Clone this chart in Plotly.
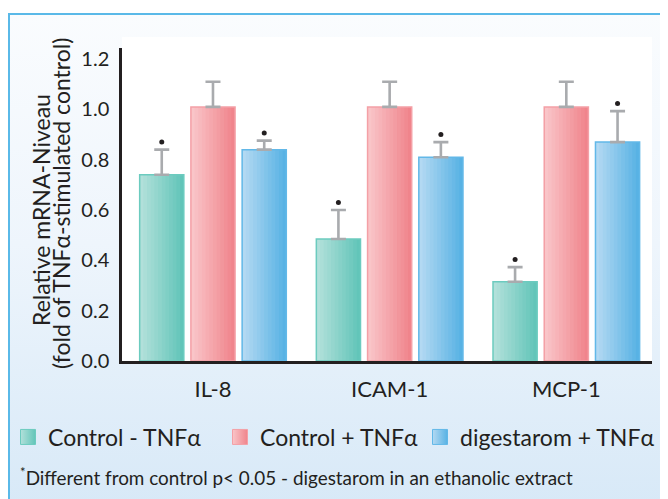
import base64
import numpy as np
import plotly.graph_objects as go

# ---------------- data ----------------
categories = ["IL-8", "ICAM-1", "MCP-1"]
series_names = ["Control - TNFα", "Control + TNFα", "digestarom + TNFα"]

control_minus = [0.74, 0.485, 0.315]
control_minus_err = [0.10, 0.115, 0.058]
control_minus_sig = [True, True, True]

control_plus = [1.01, 1.01, 1.01]
control_plus_err = [0.10, 0.10, 0.10]
control_plus_sig = [False, False, False]

digestarom = [0.84, 0.81, 0.87]
digestarom_err = [0.036, 0.06, 0.123]
digestarom_sig = [True, True, True]

y_ticks = [0.0, 0.2, 0.4, 0.6, 0.8, 1.0, 1.2]
y_tick_labels = ["0.0", "0.2", "0.4", "0.6", "0.8", "1.0", "1.2"]

y_title_lines = ["Relative mRNA-Niveau", "(fold of TNFα-stimulated control)"]
footnote = "<sup>*</sup>Different from control p< 0.05 - digestarom in an ethanolic extract"

# ---------------- geometry / styles ----------------
SHIFT = 8                      # page body margin
W, H = 668 - SHIFT, 499 - SHIFT
PX0, PX1, PY0, PY1 = 122 - SHIFT, 652 - SHIFT, 48 - SHIFT, 361 - SHIFT
L, R, T, B = PX0, W - PX1, PY0, H - PY1
pw, ph = PX1 - PX0, PY1 - PY0

def px_x(sx):   # screen x -> paper x
    return (sx - SHIFT - PX0) / pw

def px_y(sy):   # screen y -> paper y
    return (PY1 - (sy - SHIFT)) / ph

def cx(sx):     # screen x -> container x
    return max(0.0, (sx - SHIFT) / W)

def cy(sy):     # screen y -> container y
    return 1 - (sy - SHIFT) / H

FONT = "Lato, 'Open Sans', sans-serif"
TXT = "#231f20"

styles = [
    dict(left=(178, 224, 218), right=(98, 197, 185), border="#6ccbbf"),
    dict(left=(249, 197, 200), right=(240, 132, 140), border="#f4a0a6"),
    dict(left=(179, 217, 242), right=(88, 178, 228), border="#62b8e8"),
]
bar_w = 0.25
offsets = [-0.415, -0.125, 0.165]
N_SLICES = 12
legend_ids = ["legend", "legend2", "legend3"]
legend_left = [8, 220, 420]

values = [control_minus, control_plus, digestarom]
errors = [control_minus_err, control_plus_err, digestarom_err]
sigs = [control_minus_sig, control_plus_sig, digestarom_sig]

xpos = np.arange(len(categories))

fig = go.Figure()

def rgb(c):
    return "rgb(%d,%d,%d)" % tuple(int(round(v)) for v in c)

for s, (name, vals, errs, sig, st, off) in enumerate(
        zip(series_names, values, errors, sigs, styles, offsets)):
    step = bar_w / N_SLICES
    for k in range(N_SLICES):
        t = k / (N_SLICES - 1)
        col = [a + (b - a) * t for a, b in zip(st["left"], st["right"])]
        w = step * 1.6 if k < N_SLICES - 1 else step
        fig.add_trace(go.Bar(
            x=xpos, y=vals, offset=off + k * step, width=w,
            marker=dict(color=rgb(col), line=dict(width=0)),
            showlegend=False, hoverinfo="skip",
        ))
    # outline + error bars
    fig.add_trace(go.Bar(
        x=xpos, y=vals, offset=off, width=bar_w,
        marker=dict(color="rgba(0,0,0,0)", line=dict(width=1.5, color=st["border"])),
        error_y=dict(type="data", array=errs, arrayminus=[0] * len(errs),
                     symmetric=False, color="#a9abae", thickness=2.6, width=7.5),
        showlegend=False, hoverinfo="skip",
    ))
    # significance dots
    sx = [x + off + bar_w / 2 for x, f in zip(xpos, sig) if f]
    sy = [v + e + 0.03 for v, e, f in zip(vals, errs, sig) if f]
    if sx:
        fig.add_trace(go.Scatter(
            x=sx, y=sy, mode="markers",
            marker=dict(color="#231f20", size=5, symbol="circle"),
            showlegend=False, hoverinfo="skip",
        ))

# legend entries (gradient squares), one legend box per entry
for name, st, lid in zip(series_names, styles, legend_ids):
    fig.add_trace(go.Scatter(
        x=[None], y=[None], mode="markers", name=name, legend=lid,
        marker=dict(symbol="square", size=15, color=rgb(st["left"]),
                    gradient=dict(type="horizontal", color=rgb(st["right"])),
                    line=dict(width=1, color=st["border"])),
    ))

# ---------------- background panel (svg) ----------------
svg = f'''<svg xmlns="http://www.w3.org/2000/svg" width="{W}" height="{H}" viewBox="0 0 {W} {H}">
<defs><linearGradient id="g" x1="0" y1="0" x2="0" y2="1">
<stop offset="0" stop-color="#fafcfe"/><stop offset="0.45" stop-color="#eef5fc"/>
<stop offset="1" stop-color="#d6e8f7"/></linearGradient></defs>
<rect x="0" y="0" width="{W}" height="{H}" fill="#ffffff"/>
<rect x="{9 - SHIFT}" y="{14 - SHIFT}" width="{W + 20}" height="{H + 20}" fill="url(#g)" stroke="#5ab9e8" stroke-width="2"/>
<rect x="{PX0}" y="{37 - SHIFT}" width="{PX1 - PX0}" height="{PY1 - (37 - SHIFT)}" fill="#ffffff"/>
</svg>'''
src = "data:image/svg+xml;base64," + base64.b64encode(svg.encode()).decode()

fig.add_layout_image(dict(
    source=src, xref="paper", yref="paper",
    x=-L / pw, y=1 + T / ph, sizex=W / pw, sizey=H / ph,
    xanchor="left", yanchor="top", sizing="stretch", layer="below",
))

# y-axis title as two tightly spaced rotated lines
for line, sx, sy in zip(y_title_lines, [41, 61], [210, 204]):
    fig.add_annotation(
        text=line, xref="paper", yref="paper", x=px_x(sx), y=px_y(sy),
        xanchor="center", yanchor="middle", textangle=-90, showarrow=False,
        font=dict(family=FONT, size=23, color=TXT),
    )

fig.add_annotation(
    text=footnote, xref="paper", yref="paper",
    x=px_x(18), y=px_y(476), xanchor="left", yanchor="middle",
    showarrow=False, font=dict(family=FONT, size=18.9, color=TXT),
)

legend_common = dict(
    orientation="h", xanchor="left", yanchor="middle",
    xref="container", yref="container",
    font=dict(family=FONT, size=23, color=TXT),
    bgcolor="rgba(0,0,0,0)",
)
legend_layout = {
    lid: dict(legend_common, x=cx(lx), y=cy(437))
    for lid, lx in zip(legend_ids, legend_left)
}

fig.update_layout(
    width=W, height=H,
    margin=dict(l=L, r=R, t=T, b=B),
    paper_bgcolor="rgba(0,0,0,0)", plot_bgcolor="rgba(0,0,0,0)",
    barmode="overlay",
    font=dict(family=FONT, color=TXT),
    showlegend=True,
    xaxis=dict(
        range=[-0.515, 2.485], tickvals=list(xpos), ticktext=categories,
        showline=True, linecolor="#231f20", linewidth=3,
        showgrid=False, zeroline=False, ticks="",
        tickfont=dict(family=FONT, size=22, color=TXT), ticklabelstandoff=7,
    ),
    yaxis=dict(
        range=[0, 1.244], tickvals=y_ticks, ticktext=y_tick_labels,
        showline=True, linecolor="#231f20", linewidth=2.5,
        showgrid=False, zeroline=False, ticks="",
        tickfont=dict(family=FONT, size=20, color=TXT), ticklabelstandoff=6,
    ),
    hovermode=False,
    **legend_layout,
)

fig.write_html("out.html")
